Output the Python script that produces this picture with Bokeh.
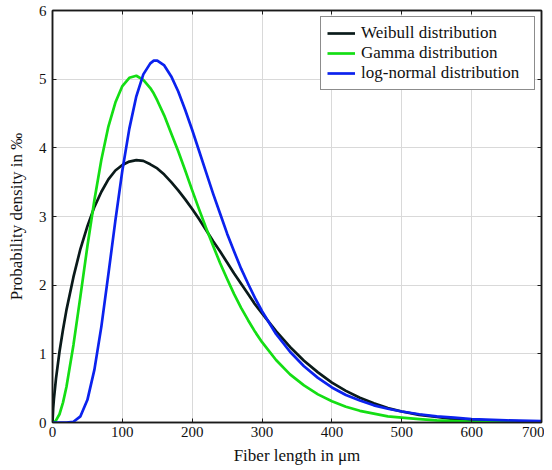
from bokeh.plotting import figure
from bokeh.models import Range1d, LinearAxis, Legend, LegendItem, FixedTicker, CustomLabelingPolicy
from bokeh.embed import file_html
from bokeh.resources import INLINE

# Fiber length in micrometres (sample positions)
fiber_length = [0, 1, 2, 5, 10, 15, 20, 30, 40, 50, 60, 70, 80, 90, 100, 110, 120, 130,
                140, 145, 150, 160, 170, 180, 190, 200, 210, 220, 230, 240, 250, 260, 270,
                280, 290, 300, 320, 340, 360, 380, 400, 420, 440, 460, 480, 500, 525,
                550, 575, 600, 650, 700]

# Probability density in per mille
weibull = [0.0, 0.21, 0.34, 0.64, 1.03, 1.35, 1.64, 2.12, 2.53, 2.86, 3.14, 3.36, 3.54,
           3.67, 3.75, 3.80, 3.82, 3.81, 3.76, 3.73, 3.70, 3.61, 3.50, 3.38, 3.25, 3.11,
           2.96, 2.80, 2.64, 2.49, 2.33, 2.17, 2.02, 1.87, 1.72, 1.59, 1.33, 1.10, 0.90,
           0.73, 0.58, 0.46, 0.36, 0.28, 0.21, 0.16, 0.11, 0.08, 0.05, 0.04, 0.02, 0.01]

gamma = [0.0, 0.0, 0.0, 0.03, 0.12, 0.29, 0.52, 1.13, 1.84, 2.57, 3.24, 3.83, 4.31,
         4.66, 4.90, 5.02, 5.05, 4.99, 4.87, 4.79, 4.69, 4.47, 4.21, 3.95, 3.67, 3.38,
         3.10, 2.83, 2.57, 2.32, 2.09, 1.87, 1.67, 1.49, 1.32, 1.17, 0.91, 0.70, 0.54,
         0.41, 0.31, 0.23, 0.17, 0.13, 0.09, 0.07, 0.05, 0.03, 0.02, 0.01, 0.01, 0.0]

lognormal = [0.0, 0.0, 0.0, 0.0, 0.0, 0.0, 0.0, 0.01, 0.09, 0.33, 0.77, 1.40, 2.16,
             2.94, 3.67, 4.28, 4.75, 5.07, 5.23, 5.27, 5.27, 5.20, 5.04, 4.82, 4.55,
             4.26, 3.95, 3.64, 3.33, 3.04, 2.75, 2.49, 2.24, 2.02, 1.81, 1.62, 1.29,
             1.03, 0.82, 0.65, 0.51, 0.40, 0.32, 0.25, 0.20, 0.16, 0.12, 0.09, 0.07,
             0.05, 0.03, 0.02]

x_ticks = [0, 100, 200, 300, 400, 500, 600, 700]
y_ticks = [0, 1, 2, 3, 4, 5, 6]
series_labels = ["Weibull distribution", "Gamma distribution", "log-normal distribution"]
series_colors = ["#0a1a1a", "#14de14", "#0b22ee"]

FONT = "Liberation Serif"
DARK = "#1a1a1a"

p = figure(frame_width=489, frame_height=412, output_backend="svg", toolbar_location=None,
           x_range=Range1d(0, 700), y_range=Range1d(0, 6),
           min_border_left=52, min_border_right=3, min_border_top=10, min_border_bottom=38,
           x_axis_label="Fiber length in μm", y_axis_label="Probability density in ‰")

p.background_fill_color = "white"
p.border_fill_color = "white"
p.outline_line_color = DARK
p.outline_line_width = 1.5

x_axis = p.below[0]
y_axis = p.left[0]
x_axis.ticker = FixedTicker(ticks=x_ticks)
y_axis.ticker = FixedTicker(ticks=y_ticks)

hide_all = CustomLabelingPolicy(code="""
for (const i of indices) {
    indices.unset(i)
}
return indices
""")

right_axis = LinearAxis(ticker=FixedTicker(ticks=y_ticks), major_label_policy=hide_all,
                        major_label_overrides={t: "" for t in y_ticks})
above_axis = LinearAxis(ticker=FixedTicker(ticks=x_ticks), major_label_policy=hide_all,
                        major_label_overrides={t: "" for t in x_ticks})
for ax in (right_axis, above_axis):
    ax.major_label_standoff = 0
    ax.major_label_text_font_size = "1px"
p.add_layout(right_axis, "right")
p.add_layout(above_axis, "above")

for ax in (x_axis, y_axis, right_axis, above_axis):
    ax.major_tick_in = 4
    ax.major_tick_out = 0
    ax.minor_tick_in = 0
    ax.minor_tick_out = 0
    ax.axis_line_color = DARK
    ax.axis_line_width = 1.5
    ax.major_tick_line_color = DARK
    ax.major_tick_line_width = 1
    ax.major_label_text_font = FONT
    ax.axis_label_text_font = FONT
    ax.axis_label_text_font_style = "normal"
    ax.axis_label_text_color = "#111111"
    ax.major_label_text_color = "#111111"

for ax in (x_axis, y_axis):
    ax.major_label_text_font_size = "15px"
    ax.axis_label_text_font_size = "17px"
    ax.major_label_text_line_height = 1.0
    ax.axis_label_text_line_height = 1.0

x_axis.major_label_standoff = 4
x_axis.axis_label_standoff = 6
y_axis.major_label_standoff = 6
y_axis.axis_label_standoff = 10

p.grid.grid_line_color = "#d9d9d9"
p.grid.grid_line_width = 1

series = [weibull, gamma, lognormal]
items = []
for vals, lab, col in zip(series, series_labels, series_colors):
    r = p.line(fiber_length, vals, line_color=col, line_width=2.7, line_join="round")
    items.append(LegendItem(label=lab, renderers=[r]))

legend = Legend(items=items, location="top_right")
legend.margin = 6
legend.padding = 6
legend.spacing = 0
legend.glyph_width = 28
legend.glyph_height = 20
legend.label_height = 20
legend.label_width = 167
legend.label_standoff = 6
legend.label_text_font = FONT
legend.label_text_font_size = "17px"
legend.label_text_color = "#111111"
legend.border_line_color = DARK
legend.border_line_width = 1.5
legend.background_fill_color = "white"
legend.background_fill_alpha = 1.0
p.add_layout(legend)

open("out.html", "w").write(file_html(p, INLINE))
